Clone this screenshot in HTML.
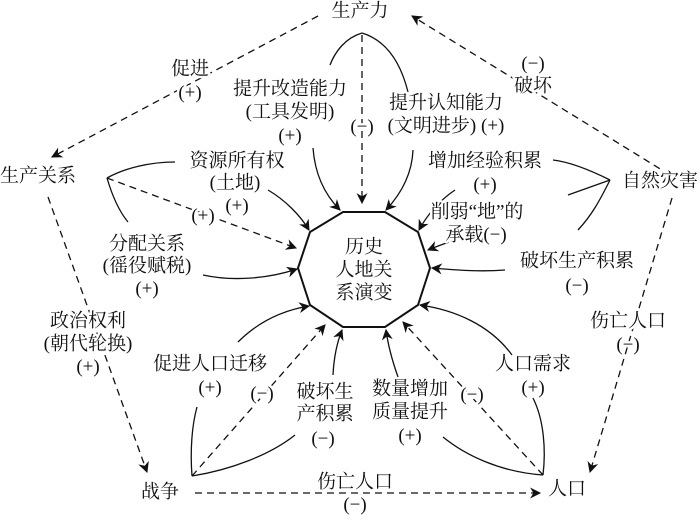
<!DOCTYPE html>
<html><head><meta charset="utf-8"><style>
html,body{margin:0;padding:0;background:#fff}
svg text{font-family:"Liberation Serif","Noto Serif CJK SC","Noto Sans CJK SC",serif;font-size:19px;fill:#111;text-anchor:middle;dominant-baseline:middle;stroke:#fff;stroke-width:5px;paint-order:stroke;stroke-linejoin:round}
</style></head><body>
<svg width="700" height="517" viewBox="0 0 700 517" xmlns="http://www.w3.org/2000/svg">
<defs>
<marker id="a" viewBox="0 0 10 10" refX="9" refY="5" markerWidth="12" markerHeight="11" orient="auto" markerUnits="userSpaceOnUse"><path d="M0,0 L10,5 L0,10 L3,5 z" fill="#111"/></marker>
</defs>
<g fill="none" stroke="#111" stroke-width="1.3">
<polygon points="343,212 385,212 418,232 430,268 418,305 385,327 343,327 310,305 298,268 310,232" stroke-width="2"/>
<g stroke-dasharray="7,5" marker-end="url(#a)">
<line x1="318" y1="16" x2="52" y2="157"/>
<line x1="670" y1="175" x2="412" y2="16"/>
<line x1="48" y1="197" x2="147" y2="472"/>
<line x1="672" y1="198" x2="590" y2="472"/>
<line x1="195" y1="493" x2="540" y2="493"/>
<line x1="362" y1="35" x2="362" y2="203"/>
<line x1="107" y1="178" x2="296" y2="248"/>
<line x1="192" y1="476" x2="325" y2="325"/>
<line x1="543" y1="475" x2="403" y2="322"/>
</g>
<path d="M362,33 C345,38 335,52 330,65"/>
<path d="M362,33 C385,40 400,60 408,92"/>
<path d="M107,178 C125,168 150,162 175,162"/>
<path d="M107,178 C112,195 118,210 128,222"/>
<path d="M610,180 C590,170 570,162 553,160"/>
<path d="M610,180 L568,195"/>
<path d="M610,180 C600,200 592,215 578,230"/>
<path d="M192,476 C190,450 192,425 197,407"/>
<path d="M192,476 C230,470 270,455 295,435"/>
<path d="M543,475 C546,450 544,420 533,398"/>
<path d="M543,475 C500,472 465,455 443,437"/>
<g marker-end="url(#a)">
<path d="M313,148 C315,175 325,195 340,210"/>
<path d="M413,150 C412,175 400,195 386,210"/>
<path d="M268,190 C285,200 300,215 309,230"/>
<path d="M203,275 C235,282 270,278 297,269"/>
<path d="M455,190 C440,200 427,215 419,230"/>
<path d="M468,235 C455,240 440,245 428,250"/>
<path d="M505,270 C480,272 455,270 432,268"/>
<path d="M238,342 C260,320 285,310 309,306"/>
<path d="M333,375 C334,355 338,340 342,330"/>
<path d="M398,377 C392,360 388,345 386,330"/>
<path d="M512,355 C490,325 455,310 420,305"/>
</g>
</g>
<text x="360" y="12">生产力</text>
<text x="38" y="177">生产关系</text>
<text x="660" y="182">自然灾害</text>
<text x="160" y="493">战争</text>
<text x="567" y="490">人口</text>
<text x="364" y="248" style="stroke:none">历史</text>
<text x="364" y="271" style="stroke:none">人地关</text>
<text x="364" y="294" style="stroke:none">系演变</text>
<text x="190" y="70">促进</text><text x="190" y="94">(+)</text>
<text x="533" y="65">(−)</text><text x="533" y="87">破坏</text>
<text x="88" y="322">政治权利</text><text x="88" y="345">(朝代轮换)</text><text x="88" y="368">(+)</text>
<text x="628" y="322">伤亡人口</text><text x="628" y="346">(−)</text>
<text x="355" y="483">伤亡人口</text><text x="355" y="506">(−)</text>
<text x="290" y="90">提升改造能力</text><text x="290" y="113">(工具发明)</text><text x="290" y="137">(+)</text>
<text x="362" y="128">(−)</text>
<text x="446" y="104">提升认知能力</text><text x="446" y="127">(文明进步) (+)</text>
<text x="237" y="162">资源所有权</text><text x="235" y="184">(土地)</text><text x="237" y="207">(+)</text>
<text x="203" y="217">(+)</text>
<text x="147" y="245">分配关系</text><text x="147" y="267">(徭役赋税)</text><text x="147" y="290">(+)</text>
<text x="485" y="162">增加经验积累</text><text x="485" y="186">(+)</text>
<text x="477" y="213">削弱“地”的</text><text x="476" y="236">承载(−)</text>
<text x="577" y="262">破坏生产积累</text><text x="577" y="287">(−)</text>
<text x="210" y="365">促进人口迁移</text><text x="210" y="389">(+)</text>
<text x="262" y="395">(−)</text>
<text x="325" y="393">破坏生</text><text x="325" y="415">产积累</text><text x="323" y="440">(−)</text>
<text x="410" y="390">数量增加</text><text x="410" y="413">质量提升</text><text x="410" y="437">(+)</text>
<text x="472" y="396">(−)</text>
<text x="533" y="365">人口需求</text><text x="533" y="389">(+)</text>
</svg>
</body></html>
